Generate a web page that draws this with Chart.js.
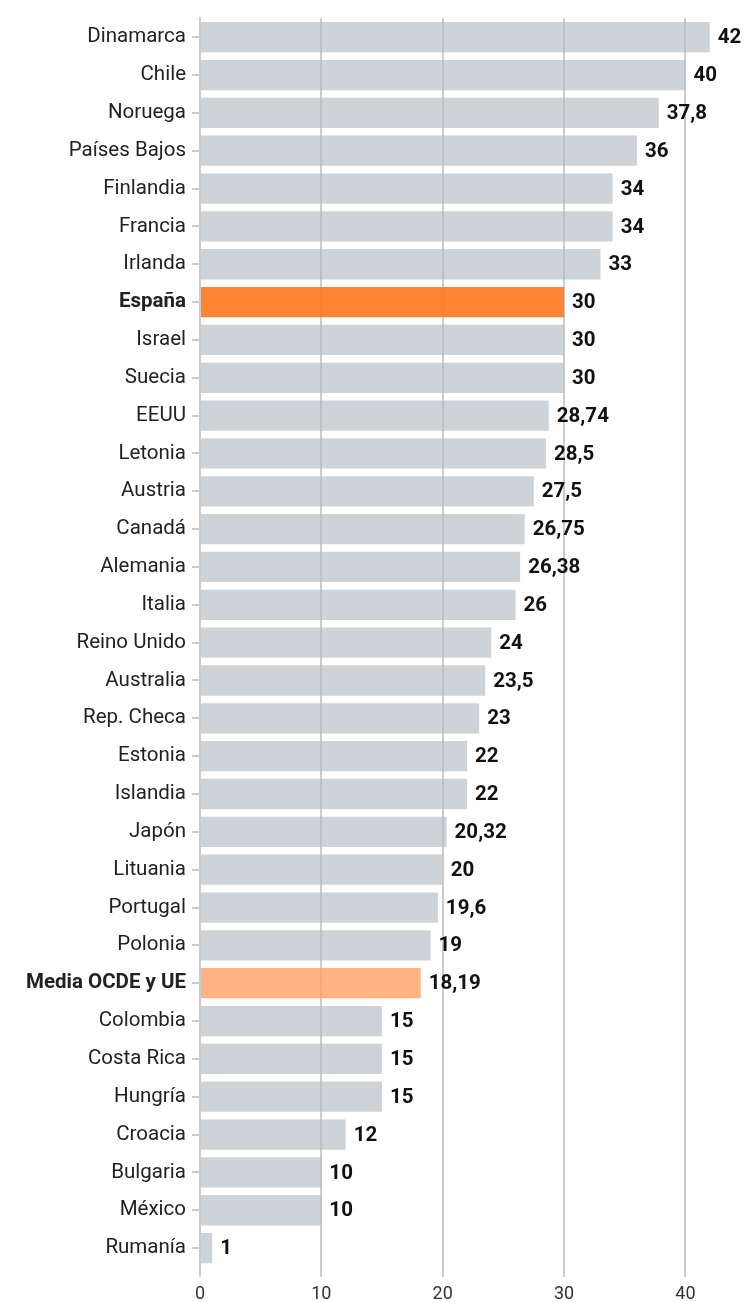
<!DOCTYPE html>
<html>
<head>
<meta charset="utf-8">
<script src="https://cdn.jsdelivr.net/npm/chart.js@4/dist/chart.umd.min.js"></script>
<style>
  body { margin: 0; background: #fff; }
  #wrap { width: 744px; height: 1302px; position: relative; }
</style>
</head>
<body>
<div id="wrap"><canvas id="myChart"></canvas></div>
<script>
var countries = ['Dinamarca', 'Chile', 'Noruega', 'Países Bajos', 'Finlandia', 'Francia', 'Irlanda', 'España', 'Israel', 'Suecia', 'EEUU', 'Letonia', 'Austria', 'Canadá', 'Alemania', 'Italia', 'Reino Unido', 'Australia', 'Rep. Checa', 'Estonia', 'Islandia', 'Japón', 'Lituania', 'Portugal', 'Polonia', 'Media OCDE y UE', 'Colombia', 'Costa Rica', 'Hungría', 'Croacia', 'Bulgaria', 'México', 'Rumanía'];
var values = [42, 40, 37.8, 36, 34, 34, 33, 30, 30, 30, 28.74, 28.5, 27.5, 26.75, 26.38, 26, 24, 23.5, 23, 22, 22, 20.32, 20, 19.6, 19, 18.19, 15, 15, 15, 12, 10, 10, 1];
var xTicks = [0, 10, 20, 30, 40];
var highlight = 'España';
var average = 'Media OCDE y UE';

var barColors = countries.map(function (c) {
    if (c === highlight) return 'rgba(255, 120, 30, 0.9)';
    if (c === average) return 'rgba(255, 160, 100, 0.8)';
    return 'rgba(180, 187, 194, 0.65)';
});

// value labels at the end of each bar
var valueLabels = {
    id: 'valueLabels',
    afterDatasetsDraw: function (chart) {
        var ctx = chart.ctx;
        var meta = chart.getDatasetMeta(0);
        ctx.save();
        ctx.font = 'bold 20.5px Roboto';
        ctx.fillStyle = '#111';
        ctx.textBaseline = 'middle';
        ctx.textAlign = 'left';
        meta.data.forEach(function (bar, i) {
            var txt = String(values[i]).replace('.', ',');
            ctx.fillText(txt, bar.x + 8, bar.y + 1);
        });
        ctx.restore();
    }
};

var ctx = document.getElementById('myChart').getContext('2d');
var myChart = new Chart(ctx, {
    type: 'bar',
    data: {
        labels: countries,
        datasets: [{
            data: values,
            backgroundColor: barColors,
            borderWidth: 0,
            barPercentage: 0.8,
            categoryPercentage: 1
        }]
    },
    options: {
        indexAxis: 'y',
        responsive: true,
        maintainAspectRatio: false,
        animation: false,
        layout: { padding: { top: 14, right: 10, bottom: 0, left: 0 } },
        plugins: {
            legend: { display: false },
            tooltip: { enabled: false }
        },
        scales: {
            x: {
                min: 0,
                max: 44,
                afterBuildTicks: function (axis) {
                    axis.ticks = xTicks.map(function (v) { return { value: v }; });
                },
                afterFit: function (axis) { axis.height = 35; },
                grid: { color: '#cccccc', lineWidth: 2, tickLength: 10 },
                border: { display: false },
                ticks: {
                    color: '#333',
                    font: { family: 'Roboto', size: 18 },
                    padding: 7,
                    maxRotation: 0
                }
            },
            y: {
                afterFit: function (axis) { axis.width = 200; },
                grid: { drawOnChartArea: false, offset: false, color: '#cccccc', lineWidth: 2, tickLength: 8 },
                border: { display: true, color: '#cccccc', width: 2 },
                ticks: {
                    color: '#222',
                    padding: 6,
                    autoSkip: false,
                    font: function (c) {
                        var lbl = countries[c.index];
                        var bold = (lbl === highlight || lbl === average);
                        return { family: 'Roboto', size: 20.5, weight: bold ? 'bold' : 'normal' };
                    }
                }
            }
        }
    },
    plugins: [valueLabels]
});
</script>
</body>
</html>
